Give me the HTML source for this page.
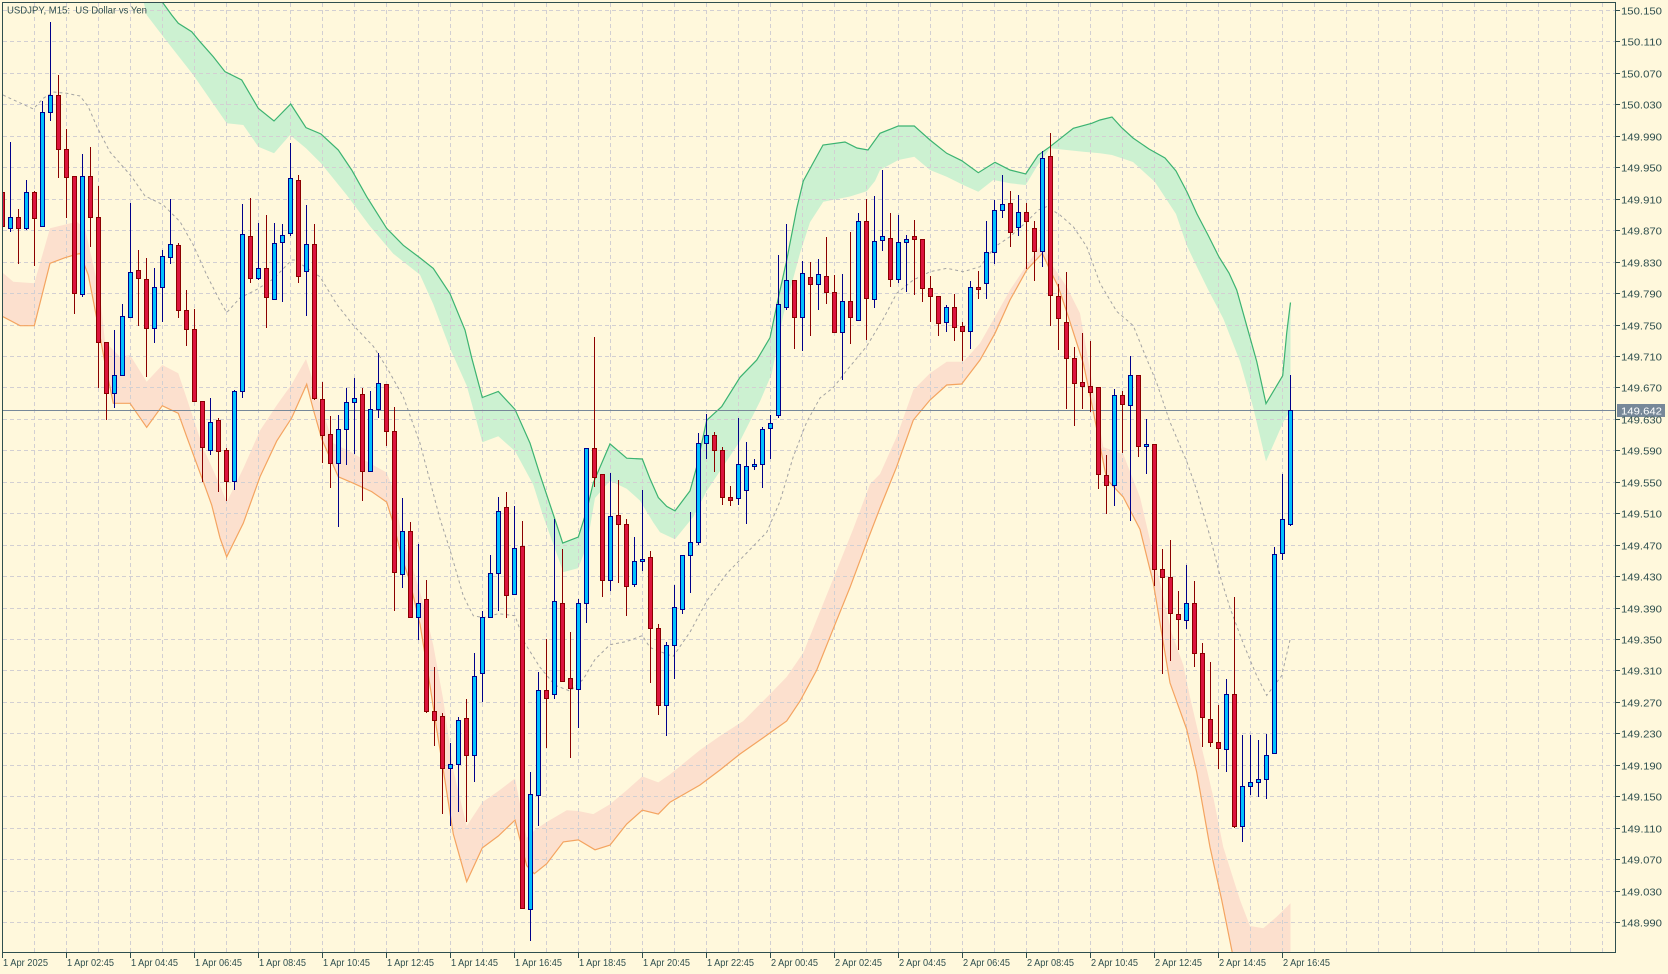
<!DOCTYPE html>
<html><head><meta charset="utf-8"><style>
html,body{margin:0;padding:0;background:#fff8dc;width:1668px;height:974px;overflow:hidden}
svg{display:block}
</style></head><body>
<svg width="1668" height="974" viewBox="0 0 1668 974" xmlns="http://www.w3.org/2000/svg">
<defs><clipPath id="c"><rect x="3" y="3" width="1612" height="949"/></clipPath></defs>
<rect width="1668" height="974" fill="#fff8dc"/>
<g clip-path="url(#c)">
<!-- green cloud -->
<polygon fill="#ccf1d1" points="154,-5 163,3 171.7,15 178.3,23.3 191.7,31.7 200,41.7 213.3,56.7 225,71.7 241.7,80 258.3,108.3 274,121 290.7,104 306,127.7 321,134 338.3,150 351.7,170 366.7,196.7 386.7,228.4 403.3,245.3 420,257.9 433.3,268.4 450,293.7 465,330 471.7,357.8 482.3,397.5 498.3,391.5 515,409.4 530,443.1 540,474.8 553.3,514.5 562.7,543.1 578.3,537.1 586.7,510.6 593.3,482.8 610,443.9 626.7,458.2 642.3,459 650,478.8 658.3,497.5 666.7,506.4 675,510.9 690,490.9 696.7,466.8 706.7,420.3 721.7,406.6 740,377.3 756.7,360.1 770,337.7 778.3,298.1 786.7,260.2 796.7,208.6 803.3,181 812,165 823,145 845,142 857,148 868,150 880,133.3 898.3,126 914.3,126 930,140 946.7,153.3 961.7,160.7 978.3,172.7 995,162.3 1010,170 1025.7,174 1038.3,155 1050,146.7 1073.3,128.3 1091.7,123.3 1100,120 1112,117 1122,128 1133,138 1149,149 1165,158 1176,171 1187,192 1197,214 1208,235 1219,257 1229,273 1236.7,290 1246.7,325.7 1256.7,361.4 1266,403.6 1282.7,375.7 1286.7,332.9 1290.5,302.5 1290.5,410 1283.3,422.1 1266,461.4 1253.3,407.9 1240,361.4 1223.3,318.6 1208.3,290 1197,267 1187,246 1176,214 1155,182 1133,162 1112,155 1100,153.3 1083.3,151.7 1066.7,150 1050,148.3 1036.7,166.7 1025.7,185 1010,183.3 993.3,180 978.3,191.7 963.3,185 946.7,176.7 930,170 914.3,156.7 898.3,160 880,170 875,181 866.7,191.3 850,196.5 823.3,201.7 810,222.3 800,253.3 783.3,315.3 771.7,373.9 760,401.4 740,441 706.7,491 693.3,516.8 675,539.2 660,532.3 653.3,522.5 640,500.6 626.7,488.7 610,480.8 595,498 586.7,546.3 578.3,568.1 563.3,572.1 553.3,544.3 543.3,516.5 533.3,484.8 515,451 498.3,436.3 482.3,442.3 475,415.3 466.7,385.6 450,348.4 433.3,304.2 420,274.7 393.3,253.7 370,226.3 346.7,195 321,163.3 306,148.3 290,135 274,153.3 258.3,146.7 243.3,125 226.7,123.3 193.3,75 163.3,36.7 146.7,15 142,-5"/>
<!-- orange band -->
<polygon fill="#fce0ce" points="0,272 3.3,273.3 13.3,281.7 34.3,283.3 50,228.3 76.7,221.7 85,228.3 100,295 105,341.7 120,356.7 130,355 146.7,381.7 162.3,365 178.3,373.3 186.7,398.3 203.3,448.3 220,485.3 226.7,502.1 243.3,468.4 260,430.5 276.7,405.3 291.7,384.2 306,359 316.7,392.6 333.3,443.2 350,451.6 371.7,464.2 386.7,472.6 393.3,489.5 401.7,535.8 413.3,569.5 423.3,603.2 433.3,645.3 443.3,700 453.3,770 466.7,826 482.3,802.2 498.3,791.1 515,778.4 526.7,837.9 535,830 546.7,822 566.7,810.2 578.3,811 593.3,814.1 610,804.2 626.7,790.3 642.3,776.4 658.3,782.4 670,774.4 700,750 720,736 743.3,721 770,694.1 786.7,676.9 803.3,652.8 820,611.5 836.7,570.2 853.3,528.8 870,484.1 880,474 896.7,436.7 913.3,390 930,373.3 946.7,361.7 963.3,361.7 980,343.3 995,316.7 1010,290 1026.7,265 1042.3,243.3 1053.3,266.7 1066.7,286.7 1080,313.3 1090,370 1103.3,447.1 1123.3,454.3 1140,497.1 1156.7,568.6 1171.7,632.9 1183.3,665 1190,697.1 1200,740 1213.3,797.1 1223.3,847.1 1240,900 1250,926 1263.3,928.3 1276.7,916.7 1290.5,903.3 1290.5,960 1234,960 1232.3,952.7 1221.7,900 1210,847.1 1196.7,772.1 1186.7,729.3 1170,682.9 1153.3,582.9 1140,529.3 1123.3,497.1 1106.7,479.3 1090,395 1083.3,363.3 1068.3,316.7 1058.3,286.7 1050,270 1042.3,253.3 1026.7,270 1010,300 995,333.3 980,360 961.7,384 946.7,385 930,400 913.3,420 896.7,466.7 880,508 866.7,542.6 850,587.4 833.3,628.7 816.7,670.1 800,701.1 786.7,721 760,740 740,754 720,770 700,785 670,802.2 658.3,814.1 642.3,810.2 626.7,824 610,845.1 595,849.8 578.3,839.9 563.3,841.9 546.7,863.7 534.3,873.7 526.7,865.7 515,820.1 498.3,836 482.3,847.9 466.7,881.6 453.3,834 443.3,770 436.7,729.5 428.3,674.7 420,624.2 410,582.1 401.7,556.8 393.3,523.2 386.7,502.1 371.7,491.6 353.3,483.2 338.3,476.8 321.7,438.9 313.3,409.5 306.7,384.2 291.7,417.9 276.7,441.1 260,476.8 243.3,523.2 226.7,556.8 220,537.9 211.7,505 203.3,481.7 186.7,436.7 178.3,413.3 162.3,405.7 146.7,427.3 130,403.3 113.3,403.3 105,363.3 96.7,318.3 88.3,275 80,253.3 65,257.7 50,263.3 34.3,325.7 20,325.7 3.3,316.7 0,316"/>
<!-- grid -->
<path fill="none" stroke="#d2cfd2" stroke-width="1" stroke-dasharray="4,3" shape-rendering="crispEdges" d="M3 10.5H1615M3 41.5H1615M3 73.5H1615M3 104.5H1615M3 136.5H1615M3 167.5H1615M3 199.5H1615M3 230.5H1615M3 262.5H1615M3 293.5H1615M3 325.5H1615M3 356.5H1615M3 387.5H1615M3 419.5H1615M3 450.5H1615M3 482.5H1615M3 513.5H1615M3 545.5H1615M3 576.5H1615M3 608.5H1615M3 639.5H1615M3 670.5H1615M3 702.5H1615M3 733.5H1615M3 765.5H1615M3 796.5H1615M3 828.5H1615M3 859.5H1615M3 891.5H1615M3 922.5H1615M34.5 3V952M66.5 3V952M98.5 3V952M130.5 3V952M162.5 3V952M194.5 3V952M226.5 3V952M258.5 3V952M290.5 3V952M322.5 3V952M354.5 3V952M386.5 3V952M418.5 3V952M450.5 3V952M482.5 3V952M514.5 3V952M546.5 3V952M578.5 3V952M610.5 3V952M642.5 3V952M674.5 3V952M706.5 3V952M738.5 3V952M770.5 3V952M802.5 3V952M834.5 3V952M866.5 3V952M898.5 3V952M930.5 3V952M962.5 3V952M994.5 3V952M1026.5 3V952M1058.5 3V952M1090.5 3V952M1122.5 3V952M1154.5 3V952M1186.5 3V952M1218.5 3V952M1250.5 3V952M1282.5 3V952M1314.5 3V952M1346.5 3V952M1378.5 3V952M1410.5 3V952M1442.5 3V952M1474.5 3V952M1506.5 3V952M1538.5 3V952M1570.5 3V952M1602.5 3V952"/>
<!-- dotted MA -->
<polyline fill="none" stroke="#a3a3a3" stroke-width="1" stroke-dasharray="3,3" points="3,95 10,98.3 33.3,109 43.3,98.3 53.3,92 66.7,93.3 80,96 88.3,106.7 97,127 110,152 120,163.3 131.7,176.7 145,196 153.3,200 163.3,205 180,221.7 193.3,245 206.7,275 220,301 226.7,312.6 240,297.9 256.7,289.5 273.3,279 291.7,260 295,260 320,276.8 336.7,304.2 353.3,325.3 373.3,346.3 386.7,367.4 403.3,396.8 420,443.2 430,481.1 440,518.9 450,550 463.3,595.9 473.3,615.7 483.3,617.7 498.3,613.7 515,615.7 525,643.5 540,667.3 555,685.2 570,691.1 583.3,679.2 595,659.4 610,644.7 626.7,641.5 642.3,635.6 650,647.5 670,655.4 673.3,656.2 690,632.1 706.7,601.1 726.7,573.6 750,549.5 766.7,532.3 780,501.3 793.3,456.6 806.7,422 820,398 833.3,387.6 846.7,370.4 866.7,346.3 883.3,318.8 896.7,293.3 913.3,280 930,271.7 946.7,268.3 963.3,271.7 980,266.7 995,246.7 1010,236.7 1026.7,221.7 1038.3,210 1046.7,206.7 1060,215 1073.3,226.7 1086.7,246.7 1100,283.3 1116.7,311.4 1133.3,325.7 1143.3,350.7 1156.7,382.9 1170,422.1 1186.7,461.4 1196.7,490 1210,536.4 1220,575.7 1230,607.9 1243.3,643.6 1256.7,675.7 1266.7,695.4 1281.7,675.7 1290,640"/>
<!-- green line -->
<polyline fill="none" stroke="#3cb371" stroke-width="1.2" points="154,-5 163,3 171.7,15 178.3,23.3 191.7,31.7 200,41.7 213.3,56.7 225,71.7 241.7,80 258.3,108.3 274,121 290.7,104 306,127.7 321,134 338.3,150 351.7,170 366.7,196.7 386.7,228.4 403.3,245.3 420,257.9 433.3,268.4 450,293.7 465,330 471.7,357.8 482.3,397.5 498.3,391.5 515,409.4 530,443.1 540,474.8 553.3,514.5 562.7,543.1 578.3,537.1 586.7,510.6 593.3,482.8 610,443.9 626.7,458.2 642.3,459 650,478.8 658.3,497.5 666.7,506.4 675,510.9 690,490.9 696.7,466.8 706.7,420.3 721.7,406.6 740,377.3 756.7,360.1 770,337.7 778.3,298.1 786.7,260.2 796.7,208.6 803.3,181 812,165 823,145 845,142 857,148 868,150 880,133.3 898.3,126 914.3,126 930,140 946.7,153.3 961.7,160.7 978.3,172.7 995,162.3 1010,170 1025.7,174 1038.3,155 1050,146.7 1073.3,128.3 1091.7,123.3 1100,120 1112,117 1122,128 1133,138 1149,149 1165,158 1176,171 1187,192 1197,214 1208,235 1219,257 1229,273 1236.7,290 1246.7,325.7 1256.7,361.4 1266,403.6 1282.7,375.7 1286.7,332.9 1290.5,302.5"/>
<!-- orange line -->
<polyline fill="none" stroke="#f4a460" stroke-width="1.2" points="3,316.7 20,325.7 34.3,325.7 50,263.3 65,257.7 80,253.3 88.3,275 96.7,318.3 105,363.3 113.3,403.3 130,403.3 146.7,427.3 162.3,405.7 178.3,413.3 186.7,436.7 203.3,481.7 211.7,505 220,537.9 226.7,556.8 243.3,523.2 260,476.8 276.7,441.1 291.7,417.9 306.7,384.2 313.3,409.5 321.7,438.9 338.3,476.8 353.3,483.2 371.7,491.6 386.7,502.1 393.3,523.2 401.7,556.8 410,582.1 420,624.2 428.3,674.7 436.7,729.5 443.3,770 453.3,834 466.7,881.6 482.3,847.9 498.3,836 515,820.1 526.7,865.7 534.3,873.7 546.7,863.7 563.3,841.9 578.3,839.9 595,849.8 610,845.1 626.7,824 642.3,810.2 658.3,814.1 670,802.2 700,785 720,770 740,754 760,740 786.7,721 800,701.1 816.7,670.1 833.3,628.7 850,587.4 866.7,542.6 880,508 896.7,466.7 913.3,420 930,400 946.7,385 961.7,384 980,360 995,333.3 1010,300 1026.7,270 1042.3,253.3 1050,270 1058.3,286.7 1068.3,316.7 1083.3,363.3 1090,395 1106.7,479.3 1123.3,497.1 1140,529.3 1153.3,582.9 1170,682.9 1186.7,729.3 1196.7,772.1 1210,847.1 1221.7,900 1232.3,952.7 1234,960"/>
<!-- price line -->
<path d="M3 410.5H1615" stroke="#778899" stroke-width="1" shape-rendering="crispEdges"/>
<!-- candles -->
<g shape-rendering="crispEdges" stroke-width="1">
<path fill="none" stroke="#00008b" d="M10.5 142V232M26.5 180V230M42.5 101V227M50.5 22V121M82.5 154V297M114.5 330V408M122.5 304V375M130.5 203V317M154.5 268V343M162.5 250V322M170.5 199V264M210.5 398V455M234.5 390V490M242.5 204V398M258.5 223V280M274.5 223V300M282.5 224V302M290.5 143V236M306.5 205V316M338.5 415V527M346.5 388V465M354.5 378V454M370.5 391V471M378.5 353V418M402.5 498V588M418.5 544V640M450.5 743V826M458.5 717V812M474.5 653V782M482.5 611V702M490.5 555V617M498.5 497V611M514.5 506V594M530.5 772V941M538.5 672V826M554.5 519V699M578.5 599V728M586.5 448V623M610.5 473V591M634.5 537V587M642.5 490V571M666.5 642V736M674.5 585V679M682.5 555V614M690.5 512V593M698.5 433V545M706.5 414V459M738.5 418V505M746.5 442V524M754.5 459V470M762.5 427V488M770.5 415V459M778.5 255V418M786.5 224V310M802.5 261V351M818.5 259V310M842.5 274V380M858.5 213V320M874.5 196V308M882.5 170V251M898.5 215V283M906.5 235V292M946.5 305V332M970.5 281V349M986.5 221V299M994.5 200V264M1002.5 175V218M1018.5 195V236M1042.5 151V267M1114.5 389V506M1130.5 356V521M1146.5 419V474M1186.5 565V629M1226.5 679V772M1242.5 735V842M1250.5 735V795M1258.5 740V797M1266.5 734V799M1274.5 547V753M1282.5 474V560M1290.5 375V526"/>
<path fill="none" stroke="#8b0000" d="M2.5 182V248M18.5 209V264M34.5 191V266M58.5 75V178M66.5 129V218M74.5 176V314M90.5 147V247M98.5 186V388M106.5 342V420M138.5 250V326M146.5 258V377M178.5 243V318M186.5 290V346M194.5 309V402M202.5 401V482M218.5 418V492M226.5 448V501M250.5 198V283M266.5 215V328M298.5 175V283M314.5 224V400M322.5 382V463M330.5 416V488M362.5 388V501M386.5 384V446M394.5 407V611M410.5 522V618M426.5 580V713M434.5 667V746M442.5 713V814M466.5 699V822M506.5 492V618M522.5 521V909M546.5 639V748M562.5 549V681M570.5 632V758M594.5 337V487M602.5 474V597M618.5 480V583M626.5 519V616M650.5 551V683M658.5 624V715M714.5 432V472M722.5 447V505M730.5 486V506M794.5 280V349M810.5 262V336M826.5 237V304M834.5 275V333M850.5 232V344M866.5 199V340M890.5 213V287M914.5 220V295M922.5 239V302M930.5 276V322M938.5 296V336M954.5 294V341M962.5 322V361M978.5 271V299M1010.5 191V247M1026.5 203V269M1034.5 221V281M1050.5 133V326M1058.5 284V350M1066.5 272V409M1074.5 347V426M1082.5 333V409M1090.5 341V412M1098.5 387V489M1106.5 455V514M1122.5 391V453M1138.5 375V457M1154.5 444V586M1162.5 549V674M1170.5 540V661M1178.5 591V650M1194.5 581V667M1202.5 643V747M1210.5 662V747M1218.5 705V769M1234.5 597V828"/>
<path fill="#00bfff" stroke="#00008b" d="M8.5 217.5h4v11h-4zM24.5 192.5h4v36h-4zM40.5 112.5h4v114h-4zM48.5 95.5h4v17h-4zM80.5 176.5h4v118h-4zM112.5 375.5h4v18h-4zM120.5 316.5h4v59h-4zM128.5 272.5h4v45h-4zM152.5 287.5h4v41h-4zM160.5 256.5h4v31h-4zM168.5 244.5h4v13h-4zM208.5 422.5h4v28h-4zM232.5 391.5h4v90h-4zM240.5 234.5h4v157h-4zM256.5 268.5h4v10h-4zM272.5 243.5h4v56h-4zM280.5 235.5h4v7h-4zM288.5 178.5h4v55h-4zM304.5 244.5h4v27h-4zM336.5 429.5h4v34h-4zM344.5 402.5h4v27h-4zM352.5 398.5h4v4h-4zM368.5 409.5h4v62h-4zM376.5 383.5h4v26h-4zM400.5 531.5h4v43h-4zM416.5 603.5h4v14h-4zM448.5 764.5h4v4h-4zM456.5 720.5h4v44h-4zM472.5 676.5h4v79h-4zM480.5 617.5h4v56h-4zM488.5 573.5h4v44h-4zM496.5 511.5h4v62h-4zM512.5 548.5h4v46h-4zM528.5 794.5h4v115h-4zM536.5 690.5h4v105h-4zM552.5 601.5h4v93h-4zM576.5 603.5h4v86h-4zM584.5 448.5h4v155h-4zM608.5 516.5h4v64h-4zM632.5 561.5h4v23h-4zM640.5 559.5h4v2h-4zM664.5 645.5h4v60h-4zM672.5 607.5h4v38h-4zM680.5 555.5h4v54h-4zM688.5 542.5h4v13h-4zM696.5 443.5h4v99h-4zM704.5 435.5h4v8h-4zM736.5 464.5h4v34h-4zM744.5 466.5h4v24h-4zM752.5 464.5h4v2h-4zM760.5 429.5h4v35h-4zM768.5 423.5h4v5h-4zM776.5 304.5h4v111h-4zM784.5 280.5h4v27h-4zM800.5 273.5h4v44h-4zM816.5 274.5h4v10h-4zM840.5 301.5h4v31h-4zM856.5 221.5h4v99h-4zM872.5 241.5h4v58h-4zM880.5 236.5h4v4h-4zM896.5 242.5h4v37h-4zM904.5 239.5h4v3h-4zM944.5 307.5h4v15h-4zM968.5 287.5h4v44h-4zM984.5 252.5h4v31h-4zM992.5 210.5h4v42h-4zM1000.5 204.5h4v6h-4zM1016.5 212.5h4v15h-4zM1040.5 158.5h4v93h-4zM1112.5 395.5h4v90h-4zM1128.5 375.5h4v30h-4zM1144.5 444.5h4v2h-4zM1184.5 603.5h4v17h-4zM1224.5 694.5h4v55h-4zM1240.5 786.5h4v40h-4zM1248.5 782.5h4v4h-4zM1256.5 779.5h4v3h-4zM1264.5 755.5h4v24h-4zM1272.5 554.5h4v199h-4zM1280.5 519.5h4v34h-4zM1288.5 410.5h4v114h-4z"/>
<path fill="#dc143c" stroke="#8b0000" d="M0.5 192.5h4v34h-4zM16.5 217.5h4v11h-4zM32.5 192.5h4v26h-4zM56.5 95.5h4v54h-4zM64.5 149.5h4v28h-4zM72.5 176.5h4v117h-4zM88.5 176.5h4v41h-4zM96.5 217.5h4v125h-4zM104.5 342.5h4v51h-4zM136.5 270.5h4v8h-4zM144.5 279.5h4v49h-4zM176.5 245.5h4v65h-4zM184.5 310.5h4v19h-4zM192.5 329.5h4v72h-4zM200.5 401.5h4v46h-4zM216.5 420.5h4v31h-4zM224.5 450.5h4v31h-4zM248.5 236.5h4v42h-4zM264.5 268.5h4v29h-4zM296.5 180.5h4v96h-4zM312.5 244.5h4v154h-4zM320.5 399.5h4v36h-4zM328.5 434.5h4v29h-4zM360.5 394.5h4v77h-4zM384.5 384.5h4v47h-4zM392.5 431.5h4v141h-4zM408.5 531.5h4v86h-4zM424.5 599.5h4v112h-4zM432.5 711.5h4v9h-4zM440.5 716.5h4v52h-4zM464.5 718.5h4v37h-4zM504.5 507.5h4v88h-4zM520.5 546.5h4v362h-4zM544.5 690.5h4v8h-4zM560.5 603.5h4v78h-4zM568.5 678.5h4v10h-4zM592.5 448.5h4v29h-4zM600.5 474.5h4v106h-4zM616.5 515.5h4v9h-4zM624.5 524.5h4v62h-4zM648.5 557.5h4v71h-4zM656.5 628.5h4v77h-4zM712.5 435.5h4v15h-4zM720.5 450.5h4v47h-4zM728.5 497.5h4v3h-4zM792.5 280.5h4v37h-4zM808.5 277.5h4v7h-4zM824.5 276.5h4v16h-4zM832.5 292.5h4v40h-4zM848.5 301.5h4v16h-4zM864.5 221.5h4v77h-4zM888.5 238.5h4v41h-4zM912.5 236.5h4v3h-4zM920.5 239.5h4v49h-4zM928.5 288.5h4v8h-4zM936.5 296.5h4v27h-4zM952.5 307.5h4v20h-4zM960.5 326.5h4v5h-4zM976.5 287.5h4v2h-4zM1008.5 203.5h4v29h-4zM1024.5 212.5h4v9h-4zM1032.5 228.5h4v23h-4zM1048.5 156.5h4v139h-4zM1056.5 296.5h4v22h-4zM1064.5 322.5h4v36h-4zM1072.5 358.5h4v25h-4zM1080.5 382.5h4v4h-4zM1088.5 386.5h4v6h-4zM1096.5 387.5h4v87h-4zM1104.5 475.5h4v10h-4zM1120.5 395.5h4v9h-4zM1136.5 375.5h4v71h-4zM1152.5 444.5h4v125h-4zM1160.5 569.5h4v8h-4zM1168.5 577.5h4v36h-4zM1176.5 614.5h4v5h-4zM1192.5 603.5h4v50h-4zM1200.5 653.5h4v64h-4zM1208.5 719.5h4v23h-4zM1216.5 742.5h4v6h-4zM1232.5 694.5h4v132h-4z"/>
</g>
</g>
<!-- frame & ticks -->
<g shape-rendering="crispEdges" stroke="#2f4f4f" fill="none" stroke-width="1">
<rect x="2.5" y="2.5" width="1613" height="950"/>
<path d="M1615 10.5h5M1615 41.5h5M1615 73.5h5M1615 104.5h5M1615 136.5h5M1615 167.5h5M1615 199.5h5M1615 230.5h5M1615 262.5h5M1615 293.5h5M1615 325.5h5M1615 356.5h5M1615 387.5h5M1615 419.5h5M1615 450.5h5M1615 482.5h5M1615 513.5h5M1615 545.5h5M1615 576.5h5M1615 608.5h5M1615 639.5h5M1615 670.5h5M1615 702.5h5M1615 733.5h5M1615 765.5h5M1615 796.5h5M1615 828.5h5M1615 859.5h5M1615 891.5h5M1615 922.5h5M2.5 953V958M66.5 953V958M130.5 953V958M194.5 953V958M258.5 953V958M322.5 953V958M386.5 953V958M450.5 953V958M514.5 953V958M578.5 953V958M642.5 953V958M706.5 953V958M770.5 953V958M834.5 953V958M898.5 953V958M962.5 953V958M1026.5 953V958M1090.5 953V958M1154.5 953V958M1218.5 953V958M1282.5 953V958"/>
</g>
<rect x="1617" y="404" width="48" height="13" fill="#778899"/>
<g font-family="'Liberation Sans', sans-serif" font-size="10.5" fill="#2f4f4f">
<text x="7" y="13.5" textLength="140" lengthAdjust="spacingAndGlyphs">USDJPY, M15:&#160; US Dollar vs Yen</text>
<text x="1621" y="14.5" textLength="41" lengthAdjust="spacingAndGlyphs">150.150</text>
<text x="1621" y="45.5" textLength="41" lengthAdjust="spacingAndGlyphs">150.110</text>
<text x="1621" y="77.5" textLength="41" lengthAdjust="spacingAndGlyphs">150.070</text>
<text x="1621" y="108.5" textLength="41" lengthAdjust="spacingAndGlyphs">150.030</text>
<text x="1621" y="140.5" textLength="41" lengthAdjust="spacingAndGlyphs">149.990</text>
<text x="1621" y="171.5" textLength="41" lengthAdjust="spacingAndGlyphs">149.950</text>
<text x="1621" y="203.5" textLength="41" lengthAdjust="spacingAndGlyphs">149.910</text>
<text x="1621" y="234.5" textLength="41" lengthAdjust="spacingAndGlyphs">149.870</text>
<text x="1621" y="266.5" textLength="41" lengthAdjust="spacingAndGlyphs">149.830</text>
<text x="1621" y="297.5" textLength="41" lengthAdjust="spacingAndGlyphs">149.790</text>
<text x="1621" y="329.5" textLength="41" lengthAdjust="spacingAndGlyphs">149.750</text>
<text x="1621" y="360.5" textLength="41" lengthAdjust="spacingAndGlyphs">149.710</text>
<text x="1621" y="391.5" textLength="41" lengthAdjust="spacingAndGlyphs">149.670</text>
<text x="1621" y="423.5" textLength="41" lengthAdjust="spacingAndGlyphs">149.630</text>
<text x="1621" y="454.5" textLength="41" lengthAdjust="spacingAndGlyphs">149.590</text>
<text x="1621" y="486.5" textLength="41" lengthAdjust="spacingAndGlyphs">149.550</text>
<text x="1621" y="517.5" textLength="41" lengthAdjust="spacingAndGlyphs">149.510</text>
<text x="1621" y="549.5" textLength="41" lengthAdjust="spacingAndGlyphs">149.470</text>
<text x="1621" y="580.5" textLength="41" lengthAdjust="spacingAndGlyphs">149.430</text>
<text x="1621" y="612.5" textLength="41" lengthAdjust="spacingAndGlyphs">149.390</text>
<text x="1621" y="643.5" textLength="41" lengthAdjust="spacingAndGlyphs">149.350</text>
<text x="1621" y="674.5" textLength="41" lengthAdjust="spacingAndGlyphs">149.310</text>
<text x="1621" y="706.5" textLength="41" lengthAdjust="spacingAndGlyphs">149.270</text>
<text x="1621" y="737.5" textLength="41" lengthAdjust="spacingAndGlyphs">149.230</text>
<text x="1621" y="769.5" textLength="41" lengthAdjust="spacingAndGlyphs">149.190</text>
<text x="1621" y="800.5" textLength="41" lengthAdjust="spacingAndGlyphs">149.150</text>
<text x="1621" y="832.5" textLength="41" lengthAdjust="spacingAndGlyphs">149.110</text>
<text x="1621" y="863.5" textLength="41" lengthAdjust="spacingAndGlyphs">149.070</text>
<text x="1621" y="895.5" textLength="41" lengthAdjust="spacingAndGlyphs">149.030</text>
<text x="1621" y="926.5" textLength="41" lengthAdjust="spacingAndGlyphs">148.990</text>
<text x="1621" y="414.5" textLength="41" lengthAdjust="spacingAndGlyphs" fill="#ffffff">149.642</text>
<text x="3" y="966" textLength="45" lengthAdjust="spacingAndGlyphs">1 Apr 2025</text>
<text x="67" y="966" textLength="47" lengthAdjust="spacingAndGlyphs">1 Apr 02:45</text>
<text x="131" y="966" textLength="47" lengthAdjust="spacingAndGlyphs">1 Apr 04:45</text>
<text x="195" y="966" textLength="47" lengthAdjust="spacingAndGlyphs">1 Apr 06:45</text>
<text x="259" y="966" textLength="47" lengthAdjust="spacingAndGlyphs">1 Apr 08:45</text>
<text x="323" y="966" textLength="47" lengthAdjust="spacingAndGlyphs">1 Apr 10:45</text>
<text x="387" y="966" textLength="47" lengthAdjust="spacingAndGlyphs">1 Apr 12:45</text>
<text x="451" y="966" textLength="47" lengthAdjust="spacingAndGlyphs">1 Apr 14:45</text>
<text x="515" y="966" textLength="47" lengthAdjust="spacingAndGlyphs">1 Apr 16:45</text>
<text x="579" y="966" textLength="47" lengthAdjust="spacingAndGlyphs">1 Apr 18:45</text>
<text x="643" y="966" textLength="47" lengthAdjust="spacingAndGlyphs">1 Apr 20:45</text>
<text x="707" y="966" textLength="47" lengthAdjust="spacingAndGlyphs">1 Apr 22:45</text>
<text x="771" y="966" textLength="47" lengthAdjust="spacingAndGlyphs">2 Apr 00:45</text>
<text x="835" y="966" textLength="47" lengthAdjust="spacingAndGlyphs">2 Apr 02:45</text>
<text x="899" y="966" textLength="47" lengthAdjust="spacingAndGlyphs">2 Apr 04:45</text>
<text x="963" y="966" textLength="47" lengthAdjust="spacingAndGlyphs">2 Apr 06:45</text>
<text x="1027" y="966" textLength="47" lengthAdjust="spacingAndGlyphs">2 Apr 08:45</text>
<text x="1091" y="966" textLength="47" lengthAdjust="spacingAndGlyphs">2 Apr 10:45</text>
<text x="1155" y="966" textLength="47" lengthAdjust="spacingAndGlyphs">2 Apr 12:45</text>
<text x="1219" y="966" textLength="47" lengthAdjust="spacingAndGlyphs">2 Apr 14:45</text>
<text x="1283" y="966" textLength="47" lengthAdjust="spacingAndGlyphs">2 Apr 16:45</text>
</g>
</svg>
</body></html>
